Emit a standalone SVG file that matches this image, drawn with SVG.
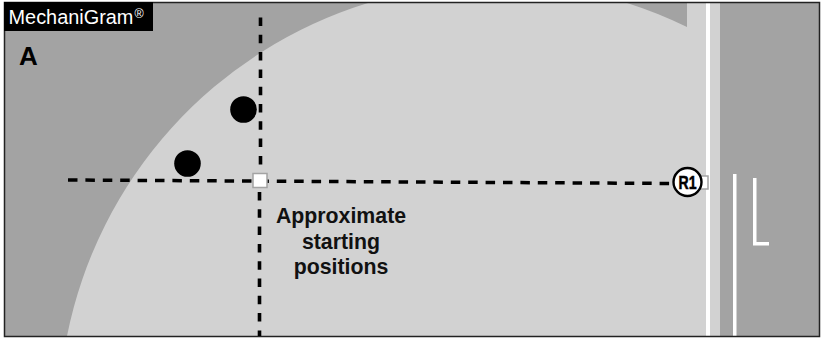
<svg xmlns="http://www.w3.org/2000/svg" width="821" height="340" viewBox="0 0 821 340">
<style>
.dash{fill:none;stroke:#000;stroke-width:3.500;stroke-dasharray:9.500 7.900}
.vdash{fill:none;stroke:#000;stroke-width:3.600;stroke-dasharray:8.500 8.800}
.mark{fill:#fff;stroke:#a3a3a3;stroke-width:1.500}
.lbl{font-family:"Liberation Sans",Arial,sans-serif;font-weight:700;font-size:21.300px;fill:#111;text-anchor:middle}
.wl{fill:#fff}
</style>
<rect width="821" height="340" fill="#fff"/>
<g id="ground">
<rect x="5" y="3" width="814" height="333" fill="#a3a3a3"/>
<path d="M67 336A437.900 437.900 0 0 1 368 3H627A437.900 437.900 0 0 1 687 27V3H720V336Z" fill="#d2d2d2"/>
<rect class="wl" x="706" y="3" width="4" height="333"/>
<rect class="wl" x="733" y="174" width="3.500" height="162"/>
<path class="wl" d="M753 178h3.500v64h12.500v3.500h-16z"/>
</g>
<rect x="4.500" y="2.500" width="815" height="334" fill="none" stroke="#222" stroke-width="1.500"/>
<g id="connectors">
<path class="dash" d="M68 180L674 183.500"/>
<path class="vdash" d="M260.500 17.500V174"/>
<path class="vdash" d="M259.500 192V336"/>
</g>
<g id="badge">
<rect x="4" y="2" width="149" height="29" fill="#000"/>
<text x="8.500" y="24" font-family="'Liberation Sans',Arial,sans-serif" font-size="19.900" fill="#fff">MechaniGram<tspan font-size="12.500" dx="1" dy="-6">®</tspan></text>
</g>
<g id="section-label"><text x="28.500" y="65" font-family="'Liberation Sans',Arial,sans-serif" font-size="26" font-weight="700" fill="#000" text-anchor="middle">A</text></g>
<g id="marker-1"><circle cx="243.500" cy="109.500" r="13.300" fill="#000"/></g>
<g id="marker-2"><circle cx="187.500" cy="163.500" r="13.300" fill="#000"/></g>
<g id="start-point"><rect class="mark" x="253" y="173.500" width="14" height="14"/></g>
<g id="r1-point"><rect class="mark" x="698" y="176" width="10" height="13"/></g>
<g id="r1">
<circle cx="687.500" cy="182" r="14" fill="#fff" stroke="#000" stroke-width="2.400"/>
<text x="687.500" y="188.500" font-family="'Liberation Sans',Arial,sans-serif" font-size="18" font-weight="700" text-anchor="middle" textLength="18" lengthAdjust="spacingAndGlyphs" stroke="#000" stroke-width="0.500">R1</text>
</g>
<g id="caption">
<text class="lbl" x="341" y="223">Approximate</text>
<text class="lbl" x="341" y="248.500">starting</text>
<text class="lbl" x="341" y="274">positions</text>
</g>
</svg>
